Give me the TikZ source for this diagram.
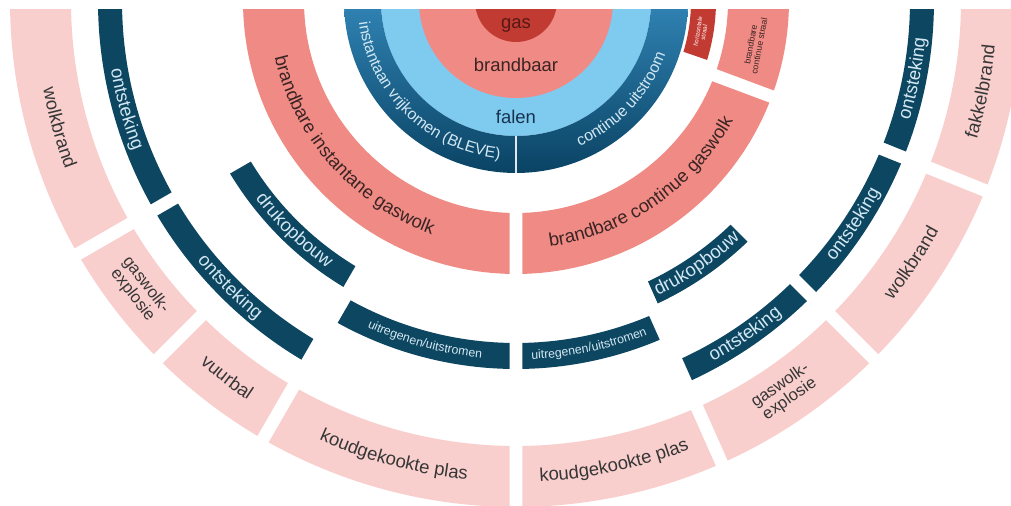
\documentclass[tikz,border=0pt]{standalone}
\usepackage{fontspec}
\setmainfont{Liberation Sans}
\usetikzlibrary{decorations.text}

\definecolor{gasred}{HTML}{C23B33}
\definecolor{salmon}{HTML}{F08A84}
\definecolor{lightblue}{HTML}{7FCBF0}
\definecolor{midblue}{HTML}{3083B4}
\definecolor{deepblue}{HTML}{0A4364}
\definecolor{navy}{HTML}{0D4661}
\definecolor{rosepink}{HTML}{F9CFCE}
\definecolor{darktext}{HTML}{3A2424}
\definecolor{greytext}{HTML}{363636}
\definecolor{palelabel}{HTML}{D3E8F3}
\definecolor{falentext}{HTML}{17324D}
\definecolor{gastext}{HTML}{561815}

\newcommand{\lbl}[2]{\fontsize{#1}{#1}\selectfont\color{#2}}

% annular sector: options, inner r, outer r, start, end, gap
\newcommand{\ringsector}[6]{%
  \pgfmathsetmacro\secin{asin(#6/(2*#2))}%
  \pgfmathsetmacro\secout{asin(#6/(2*#3))}%
  \path[#1] (#4+\secin:#2) -- (#4+\secout:#3)
    arc[start angle=#4+\secout, end angle=#5-\secout, radius=#3]
    -- (#5-\secin:#2)
    arc[start angle=#5-\secin, end angle=#4+\secin, radius=#2] -- cycle;}

% curved label: format, baseline r, mid angle, half span, text
\newcommand{\arclabel}[5]{%
  \path[decorate, decoration={text along path, text align=center,
    text={|#1|#5}}] (#3-#4:#2) arc[start angle=#3-#4, end angle=#3+#4, radius=#2];}

\begin{document}
\begin{tikzpicture}[x=0.02cm, y=0.02cm,
    twoline/.style={align=center, inner sep=0pt}]
  \useasboundingbox (-516,1) rectangle (495,-505);
  \begin{scope}
    \clip (-516,-9) rectangle (495,-505);
    \fill[lightblue] (0,0) circle[radius=135];
    \fill[salmon] (0,0) circle[radius=97];
    \fill[gasred] (0,0) circle[radius=41];
    \ringsector{top color=midblue, bottom color=deepblue}{135}{172}{-180}{-90}{2}
    \ringsector{top color=midblue, bottom color=deepblue}{135}{172}{-90}{0}{2}
    \ringsector{fill=gasred}{175}{200}{-19}{0}{13}
    \ringsector{fill=salmon}{212}{273}{-180}{-90}{13}
    \ringsector{fill=salmon}{212}{273}{-90}{-20.5}{13}
    \ringsector{fill=salmon}{212}{273}{-20.5}{0}{13}
    \ringsector{fill=navy}{310}{334}{-150}{-120}{13}
    \ringsector{fill=navy}{310}{334}{-66}{-45}{13}
    \ringsector{fill=navy}{342}{368}{-120}{-90}{13}
    \ringsector{fill=navy}{342}{368}{-90}{-66}{13}
    \foreach \a/\b in {-180/-150, -150/-120, -66/-45, -45/-22, -22/0}{
      \ringsector{fill=navy}{394}{418}{\a}{\b}{13}}
    \foreach \a/\b in {-180/-150, -150/-135, -135/-120, -120/-90, -90/-66, -66/-45, -45/-22, -22/0}{
      \ringsector{fill=rosepink}{445}{506}{\a}{\b}{13}}
  \end{scope}

  \node[font=\lbl{10.5}{gastext}] (gas) at (0,-24) {gas};
  \node[font=\lbl{10.5}{darktext}] (brandbaar) at (0,-64) {brandbaar};
  \node[font=\lbl{10.5}{falentext}] (falen) at (0,-116) {falen};

  \arclabel{\lbl{9}{palelabel}}{158.5}{-134}{44}{instantaan vrijkomen (BLEVE)}
  \arclabel{\lbl{9}{palelabel}}{158.5}{-43}{43}{continue uitstroom}
  \node[twoline, rotate=80.5, font=\lbl{3.5}{white}] (horizontaal) at (-9.5:187.5) {horizontale\\straal};

  \arclabel{\lbl{10.5}{darktext}}{248}{-138.3}{41}{brandbare instantane gaswolk}
  \arclabel{\lbl{10.5}{darktext}}{248}{-55.5}{33}{brandbare continue gaswolk}
  \node[twoline, rotate=79.5, font=\lbl{5}{darktext}] (straal) at (-10.5:243) {brandbare\\continue straal};

  \arclabel{\lbl{10.5}{palelabel}}{327}{-134}{14}{drukopbouw}
  \arclabel{\lbl{10.5}{palelabel}}{327}{-55.5}{10}{drukopbouw}
  \arclabel{\lbl{7}{palelabel}}{358.5}{-105}{14}{uitregenen/uitstromen}
  \arclabel{\lbl{7}{palelabel}}{358.5}{-78}{11.5}{uitregenen/uitstromen}

  \arclabel{\lbl{10.5}{palelabel}}{411}{-164.5}{13}{ontsteking}
  \arclabel{\lbl{10.5}{palelabel}}{411}{-135}{14}{ontsteking}
  \arclabel{\lbl{10.5}{palelabel}}{411}{-55.5}{10}{ontsteking}
  \arclabel{\lbl{10.5}{palelabel}}{411}{-33.5}{10}{ontsteking}
  \arclabel{\lbl{10.5}{palelabel}}{411}{-11}{9}{ontsteking}

  \arclabel{\lbl{10.5}{greytext}}{481}{-164.5}{13}{wolkbrand}
  \node[twoline, rotate=-52.5, font=\lbl{9.5}{greytext}] (explosieL) at (-142.5:475) {gaswolk-\\explosie};
  \arclabel{\lbl{10.5}{greytext}}{481}{-127.5}{7}{vuurbal}
  \arclabel{\lbl{10.5}{greytext}}{481}{-105}{14}{koudgekookte plas}
  \arclabel{\lbl{10.5}{greytext}}{481}{-78}{11}{koudgekookte plas}
  \node[twoline, rotate=34.5, font=\lbl{9.5}{greytext}] (explosieR) at (-55.5:475) {gaswolk-\\explosie};
  \arclabel{\lbl{10.5}{greytext}}{481}{-33.5}{10}{wolkbrand}
  \arclabel{\lbl{10.5}{greytext}}{481}{-11}{9}{fakkelbrand}
\end{tikzpicture}
\end{document}
